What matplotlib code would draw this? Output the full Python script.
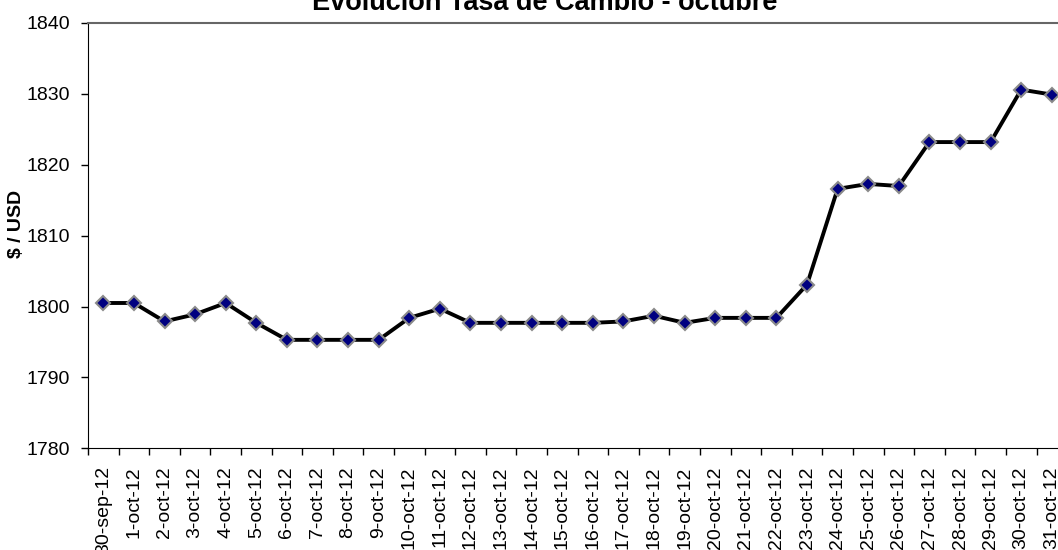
import matplotlib
matplotlib.use('Agg')
import matplotlib.pyplot as plt
from matplotlib.ticker import FixedLocator

plt.rcParams['font.family'] = ['Liberation Sans', 'DejaVu Sans']

# fechas y tasa de cambio ($ / USD)
fechas = ['30-sep-12'] + ['%d-oct-12' % d for d in range(1, 32)]
tasa = [1800.5, 1800.5, 1797.9, 1798.9, 1800.5, 1797.7, 1795.3, 1795.3,
        1795.3, 1795.3, 1798.4, 1799.7, 1797.7, 1797.7, 1797.7, 1797.7,
        1797.7, 1797.9, 1798.7, 1797.7, 1798.4, 1798.4, 1798.4, 1803.1,
        1816.6, 1817.3, 1817.0, 1823.2, 1823.2, 1823.2, 1830.6, 1829.9]

fig = plt.figure(figsize=(10.58, 5.5), dpi=100)
ax = fig.add_axes([0.0832, 0.1849, 0.9254, 0.7733])

x = list(range(len(fechas)))
ax.plot(x, tasa, color='black', linewidth=2.8, marker='D', markersize=7,
        markerfacecolor='#000080', markeredgecolor='#8a8a8a', markeredgewidth=1.5,
        zorder=3)

ax.set_ylim(1780, 1840)
ax.set_yticks(range(1780, 1841, 10))
ax.set_xlim(-0.5, len(fechas) - 0.5)

# etiquetas centradas en la categoria, marcas entre categorias
ax.set_xticks(x)
ax.set_xticklabels(fechas, rotation=90, va='top', ha='center')
ax.xaxis.set_minor_locator(FixedLocator([i - 0.5 for i in range(len(fechas) + 1)]))
ax.tick_params(axis='x', which='major', length=0, pad=13, labelsize=14)
ax.tick_params(axis='x', which='minor', length=5, width=1, direction='out')
ax.tick_params(axis='y', length=5, width=1, direction='out', pad=8, labelsize=14)

ax.spines['right'].set_visible(False)
ax.spines['top'].set_color('#666666')
ax.spines['top'].set_linewidth(1.5)

ax.set_ylabel('$ / USD', fontsize=14, fontweight='bold')
ax.yaxis.set_label_coords(-0.064, 0.527)

fig.text(0.515, 0.982, 'Evolución Tasa de Cambio - octubre', ha='center',
         va='baseline', fontsize=19.5, fontweight='bold')

fig.savefig('out.png', dpi=100)
